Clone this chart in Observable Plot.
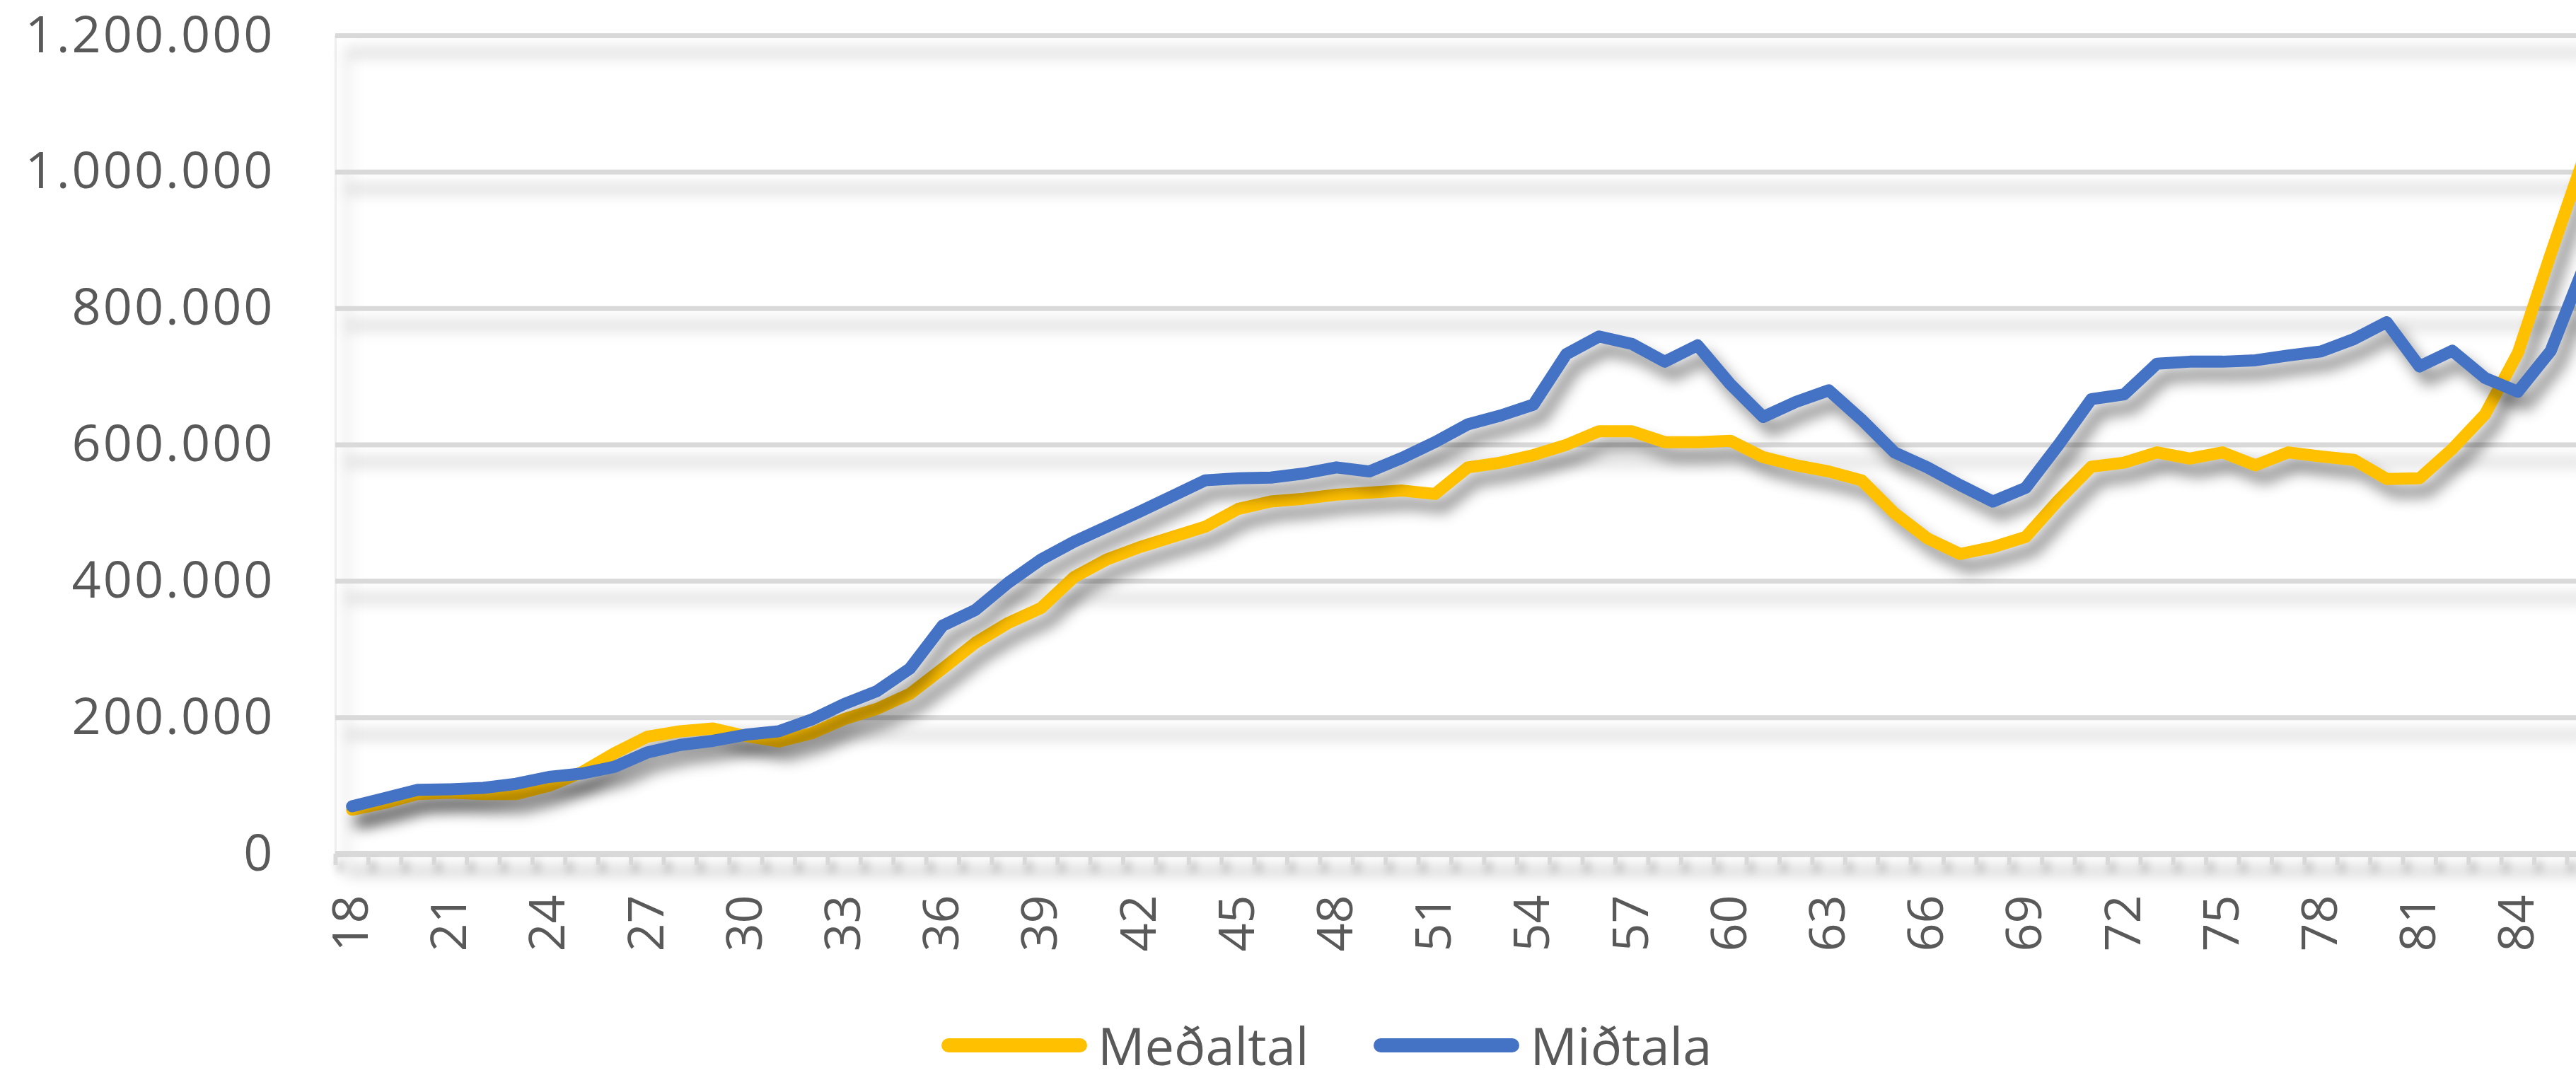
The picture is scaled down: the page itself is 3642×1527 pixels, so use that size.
<!DOCTYPE html>
<html><head><meta charset="utf-8">
<script src="https://cdn.jsdelivr.net/npm/d3@7"></script>
<script src="https://cdn.jsdelivr.net/npm/@observablehq/plot@0.6"></script>
<style>
html,body{margin:0;padding:0;background:#fff;overflow:hidden;width:3642px;height:1527px}
#chart svg{display:block}
#legend{display:flex;align-items:center;height:107px;box-sizing:border-box;padding-left:1331px;padding-top:8px;font-family:"Open Sans",sans-serif;color:#595959}
.item{display:flex;align-items:center;margin-right:92px}
.sw{height:20px;width:206px;border-radius:10px;margin-right:15px}
.lab{font-size:74px;line-height:74px;white-space:nowrap}
</style></head><body>
<div id="chart"></div>
<div id="legend"></div>
<script>
const ages = d3.range(18, 87);
const medaltal = [
  65000, 75000, 88000, 90000, 88000, 88000, 100000, 120000, 148000, 172000,
  180000, 184000, 173000, 165000, 177000, 198000, 213000, 235000, 272000, 310000,
  339000, 361000, 406000, 432000, 450000, 465000, 480000, 506000, 517000, 521000,
  527000, 530000, 533000, 528000, 567000, 574000, 585000, 600000, 620000, 620000,
  604000, 604000, 606000, 582000, 570000, 561000, 548000, 500000, 463000, 440000,
  450000, 465000, 519000, 568000, 574000, 589000, 580000, 589000, 570000, 589000,
  583000, 578000, 550000, 551000, 594000, 645000, 735000, 880000, 1020000
];
const midtala = [
  70000, 82000, 94000, 95000, 97000, 103000, 113000, 118000, 128000, 149000,
  160000, 166000, 175000, 180000, 197000, 220000, 239000, 272000, 335000, 358000,
  398000, 432000, 458000, 480000, 502000, 525000, 548000, 551000, 552000, 558000,
  567000, 561000, 581000, 604000, 630000, 643000, 659000, 733000, 759000, 748000,
  722000, 746000, 689000, 641000, 663000, 680000, 637000, 589000, 567000, 541000,
  517000, 537000, 600000, 667000, 674000, 719000, 722000, 722000, 724000, 731000,
  737000, 755000, 780000, 715000, 738000, 698000, 678000, 738000, 860000
];
const yTicks = [0, 200000, 400000, 600000, 800000, 1000000, 1200000];
const xTickLabels = d3.range(18, 85, 3);
const seriesNames = ["Meðaltal", "Miðtala"];
const seriesColors = ["#FFC000", "#4472C4"];

const loc = d3.formatLocale({decimal: ",", thousands: ".", grouping: [3], currency: ["", ""]});
const fmt = loc.format(",d");
const rows = vals => ages.map((a, i) => ({age: a, value: vals[i]}));
const series = [medaltal, midtala];

const chart = Plot.plot({
  width: 3642, height: 1420,
  marginLeft: 474, marginRight: 0, marginTop: 50, marginBottom: 213,
  style: {fontFamily: '"Open Sans", sans-serif', color: "#595959", background: "#fff", overflow: "visible"},
  x: {type: "linear", domain: [17.5, 85.78]},
  y: {domain: [0, 1200000]},
  marks: [
    Plot.ruleX([17.5], {stroke: "#eeeeee", strokeWidth: 3}),
    Plot.ruleY(yTicks.filter(d => d > 0), {stroke: "#d9d9d9", strokeWidth: 7}),
    Plot.ruleY([0], {stroke: "#d9d9d9", strokeWidth: 9}),
    Plot.axisX(d3.range(17.5, 86, 1), {tickSize: 16, tickFormat: () => "", stroke: "#d9d9d9", strokeWidth: 6, label: null}),
    Plot.axisX(xTickLabels, {tickSize: 0, tickPadding: 58, tickRotate: -90, fontSize: 70, tickFormat: d => String(d), label: null}),
    Plot.axisY(yTicks, {tickSize: 0, tickPadding: 86, fontSize: 72, tickFormat: fmt, label: null}),
    ...series.map((s, i) => Plot.line(rows(s), {x: "age", y: "value", stroke: seriesColors[i], strokeWidth: 17, strokeLinejoin: "round", strokeLinecap: "round", clip: true}))
  ]
});
document.getElementById("chart").appendChild(chart);

const svg = d3.select(chart);
svg.selectAll('g[aria-label="line"]').style("filter", "drop-shadow(12px 18px 10px rgba(0,0,0,0.45))");
svg.selectAll('g[aria-label="rule"]').style("filter", "drop-shadow(16px 24px 10px rgba(0,0,0,0.26))");
svg.selectAll('g[aria-label="x-axis tick"]').style("filter", "drop-shadow(6px 10px 6px rgba(0,0,0,0.25))");
svg.selectAll('g[aria-label="y-axis tick label"] text').style("letter-spacing", "3px");

const leg = d3.select("#legend");
seriesNames.forEach((n, i) => {
  const it = leg.append("div").attr("class", "item");
  it.append("div").attr("class", "sw").style("background", seriesColors[i]);
  it.append("div").attr("class", "lab").text(n);
});
</script>
</body></html>
